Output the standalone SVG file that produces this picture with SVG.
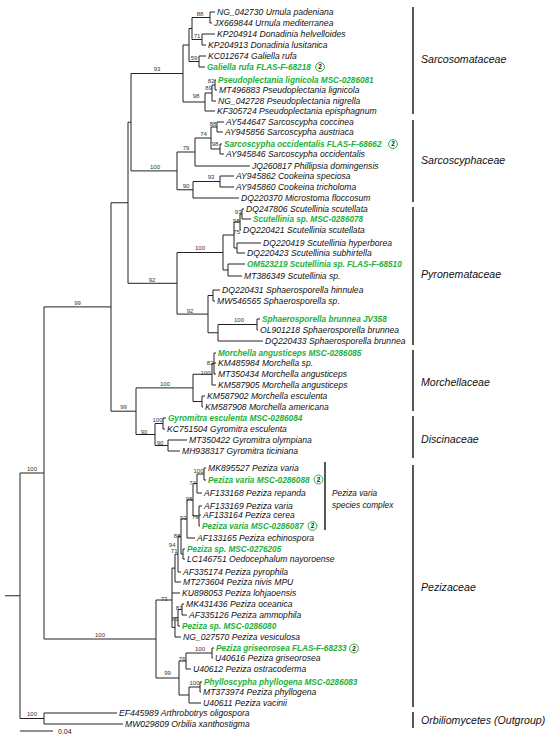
<svg xmlns="http://www.w3.org/2000/svg" width="550" height="741" viewBox="0 0 550 741">
<style>
text{font-family:"Liberation Sans",Arial,sans-serif}
.t{font-size:8.6px;font-style:italic;fill:#111}
.g{font-size:8.2px;font-style:italic;font-weight:bold;fill:#22b03c}
.b{font-size:6px;fill:#333}
.be{font-size:6px;fill:#333;text-anchor:end}
.bm{font-size:6px;fill:#333;text-anchor:middle}
.f{font-size:10.6px;font-style:italic;fill:#111}
.s{font-size:8.3px;font-style:italic;fill:#111}
.br{stroke:#222;stroke-width:1;fill:none}
.bar{stroke:#111;stroke-width:1.4}
.c{fill:#fff;stroke:#22b03c;stroke-width:1}
.cn{font-size:6.5px;font-weight:bold;fill:#111;text-anchor:middle}
</style>
<rect width="550" height="741" fill="#fff"/>
<g id="connectors" class="br">
<path d="M210,12V23M210,12H215M210,23H212"/>
<path d="M202,34V45M202,34H215M202,45H206"/>
<path d="M192,17.5V39.5M192,17.5H210M192,39.5H202"/>
<path d="M199,56V67M199,56H206M199,67H205"/>
<path d="M189,28.5V61.5M189,28.5H192M189,61.5H199"/>
<path d="M215,80V90M215,80H216M215,90H217"/>
<path d="M212,85V101M212,85H215M212,101H216"/>
<path d="M205,93V111M205,93H212M205,111H215"/>
<path d="M183,45V102M183,45H189M183,102H205"/>
<path d="M217,122V132M217,122H224M217,132H223"/>
<path d="M220,144V154M220,144H222M220,154H224"/>
<path d="M211,127V149M211,127H217M211,149H220"/>
<path d="M195,138V166M195,138H211M195,166H250"/>
<path d="M220,176V187M220,176H234M220,187H234"/>
<path d="M193,181.5V198M193,181.5H220M193,198H239"/>
<path d="M177,152V189.75M177,152H195M177,189.75H193"/>
<path d="M242,209V219M242,209H244M242,219H251"/>
<path d="M240,214V230M240,214H242M240,230H241"/>
<path d="M237,243V253M237,243H261M237,253H245"/>
<path d="M234,222V248M234,222H240M234,248H237"/>
<path d="M228,264V276M228,264H245M228,276H242"/>
<path d="M223,235V270M223,235H234M223,270H228"/>
<path d="M213,290V301M213,290H220M213,301H215"/>
<path d="M257,319V330M257,319H260M257,330H258"/>
<path d="M218,324.5V341M218,324.5H257M218,341H263"/>
<path d="M208,295.5V332.75M208,295.5H213M208,332.75H218"/>
<path d="M177,252.5V314.1M177,252.5H223M177,314.1H208"/>
<path d="M131,73.5V170.9M131,73.5H183M131,170.9H177"/>
<path d="M128,122.2V283.3M128,122.2H131M128,283.3H177"/>
<path d="M214,353V374M214,353H216M214,363H216M214,374H216"/>
<path d="M212,363.5V385M212,363.5H214M212,385H216"/>
<path d="M202,396V407M202,396H205M202,407H203"/>
<path d="M193,374.25V401.5M193,374.25H212M193,401.5H202"/>
<path d="M163,418V429M163,418H166M163,429H165"/>
<path d="M168,440V451M168,440H187M168,451H180"/>
<path d="M155,423.5V445.5M155,423.5H163M155,445.5H168"/>
<path d="M136,387.9V434.5M136,387.9H193M136,434.5H155"/>
<path d="M111,202.75V411.2M111,202.75H128M111,411.2H136"/>
<path d="M204,468V480M204,468H206M204,480H206"/>
<path d="M197,474V493M197,474H204M197,493H202"/>
<path d="M199,506V526M199,506H202M199,515H201M199,526H200"/>
<path d="M193,483.5V516M193,483.5H197M193,516H199"/>
<path d="M187,499.75V538M187,499.75H193M187,538H195"/>
<path d="M183,549V559M183,549H185M183,559H185"/>
<path d="M181,518.9V554M181,518.9H187M181,554H183"/>
<path d="M178,536.4V572M178,536.4H181M178,572H181"/>
<path d="M175,554.2V582M175,554.2H178M175,582H181"/>
<path d="M182,604V615M182,604H184M182,615H187"/>
<path d="M178,609.5V626M178,609.5H182M178,626H180"/>
<path d="M175,617.75V637M175,617.75H178M175,637H181"/>
<path d="M172,568.1V627.4M172,568.1H175M172,593H180M172,627.4H175"/>
<path d="M212,648V658M212,648H214M212,658H213"/>
<path d="M186,653V669M186,653H212M186,669H191"/>
<path d="M200,682V692M200,682H202M200,692H201"/>
<path d="M189,687V703M189,687H200M189,703H201"/>
<path d="M179,661V695M179,661H186M179,695H189"/>
<path d="M156,600V678M156,600H172M156,678H179"/>
<path d="M44,306.9V639M44,306.9H111M44,639H156"/>
<path d="M44,713V724M44,713H117M44,724H123"/>
<path d="M20,473V718.5M20,473H44M20,718.5H44M5,595.75H20"/>
</g>
<g id="support">
<text class="bm" x="200" y="15.5">88</text>
<text class="bm" x="197" y="37.5">71</text>
<text class="bm" x="194" y="59.5">59</text>
<text class="be" x="214.5" y="82.5">82</text>
<text class="be" x="212" y="90">89</text>
<text class="bm" x="196" y="97.5">98</text>
<text class="bm" x="157" y="71">93</text>
<text class="bm" x="213" y="126">88</text>
<text class="bm" x="215" y="146">98</text>
<text class="bm" x="203.5" y="135.5">74</text>
<text class="bm" x="186" y="149.5">79</text>
<text class="bm" x="211" y="178.5">93</text>
<text class="bm" x="186" y="187.5">90</text>
<text class="bm" x="155" y="168.5">100</text>
<text class="be" x="241.5" y="213.5">93</text>
<text class="be" x="239.5" y="222.5">98</text>
<text class="be" x="240" y="233.5">75</text>
<text class="bm" x="200" y="250">100</text>
<text class="bm" x="239" y="321.5">100</text>
<text class="bm" x="190" y="312.5">92</text>
<text class="bm" x="152" y="281.5">92</text>
<text class="be" x="213.5" y="365">82</text>
<text class="be" x="210.5" y="374.5">100</text>
<text class="bm" x="165" y="385.5">100</text>
<text class="be" x="162.5" y="421.5">100</text>
<text class="bm" x="160" y="444.5">90</text>
<text class="bm" x="144" y="433.5">90</text>
<text class="bm" x="123.5" y="408.5">99</text>
<text class="bm" x="77.5" y="304.5">99</text>
<text class="be" x="203.5" y="473">100</text>
<text class="be" x="196" y="484.5">74</text>
<text class="be" x="198.5" y="518.5">79</text>
<text class="be" x="192.5" y="500.5">95</text>
<text class="be" x="186.5" y="519.5">93</text>
<text class="be" x="180.5" y="537.5">88</text>
<text class="be" x="175.5" y="546.5">94</text>
<text class="be" x="177.5" y="552.5">71</text>
<text class="bm" x="164" y="601">73</text>
<text class="be" x="182.5" y="609.5">81</text>
<text class="be" x="178.5" y="620.5">81</text>
<text class="bm" x="200" y="651">100</text>
<text class="be" x="185.5" y="660.5">76</text>
<text class="be" x="199.5" y="685">100</text>
<text class="bm" x="167.5" y="675">99</text>
<text class="bm" x="100" y="637">100</text>
<text class="bm" x="32" y="471">100</text>
<text class="bm" x="32" y="716">100</text>
</g>
<g id="leaf-NG_042730"><text class="t" x="217" y="15">NG_042730 Urnula padeniana</text></g>
<g id="leaf-JX669844"><text class="t" x="214" y="26">JX669844 Urnula mediterranea</text></g>
<g id="leaf-KP204914"><text class="t" x="217" y="37">KP204914 Donadinia helvelloides</text></g>
<g id="leaf-KP204913"><text class="t" x="208" y="48">KP204913 Donadinia lusitanica</text></g>
<g id="leaf-KC012674"><text class="t" x="208" y="59">KC012674 Galiella rufa</text></g>
<g id="leaf-FLAS-F-68218"><text class="g" x="207" y="70">Galiella rufa FLAS-F-68218</text><circle class="c" cx="320" cy="67" r="4.4"/><text class="cn" x="320" y="69.3">2</text></g>
<g id="leaf-MSC-0286081"><text class="g" x="218" y="83">Pseudoplectania lignicola MSC-0286081</text></g>
<g id="leaf-MT496883"><text class="t" x="219" y="93">MT496883 Pseudoplectania lignicola</text></g>
<g id="leaf-NG_042728"><text class="t" x="218" y="104">NG_042728 Pseudoplectania nigrella</text></g>
<g id="leaf-KF305724"><text class="t" x="217" y="114">KF305724 Pseudoplectania episphagnum</text></g>
<g id="leaf-AY544647"><text class="t" x="226" y="125">AY544647 Sarcoscypha coccinea</text></g>
<g id="leaf-AY945856"><text class="t" x="225" y="135">AY945856 Sarcoscypha austriaca</text></g>
<g id="leaf-FLAS-F-68662"><text class="g" x="224" y="147">Sarcoscypha occidentalis FLAS-F-68662</text><circle class="c" cx="393" cy="144" r="4.4"/><text class="cn" x="393" y="146.3">2</text></g>
<g id="leaf-AY945846"><text class="t" x="226" y="157">AY945846 Sarcoscypha occidentalis</text></g>
<g id="leaf-JQ260817"><text class="t" x="252" y="169">JQ260817 Phillipsia domingensis</text></g>
<g id="leaf-AY945862"><text class="t" x="236" y="179">AY945862 Cookeina speciosa</text></g>
<g id="leaf-AY945860"><text class="t" x="236" y="190">AY945860 Cookeina tricholoma</text></g>
<g id="leaf-DQ220370"><text class="t" x="241" y="201">DQ220370 Microstoma floccosum</text></g>
<g id="leaf-DQ247806"><text class="t" x="246" y="212">DQ247806 Scutellinia scutellata</text></g>
<g id="leaf-MSC-0286078"><text class="g" x="253" y="222">Scutellinia sp. MSC-0286078</text></g>
<g id="leaf-DQ220421"><text class="t" x="243" y="233">DQ220421 Scutellinia scutellata</text></g>
<g id="leaf-DQ220419"><text class="t" x="263" y="246">DQ220419 Scutellinia hyperborea</text></g>
<g id="leaf-DQ220423"><text class="t" x="247" y="256">DQ220423 Scutellinia subhirtella</text></g>
<g id="leaf-OM523219"><text class="g" x="247" y="267">OM523219 Scutellinia sp. FLAS-F-68510</text></g>
<g id="leaf-MT386349"><text class="t" x="244" y="279">MT386349 Scutellinia sp.</text></g>
<g id="leaf-DQ220431"><text class="t" x="222" y="293">DQ220431 Sphaerosporella hinnulea</text></g>
<g id="leaf-MW546565"><text class="t" x="217" y="304">MW546565 Sphaerosporella sp.</text></g>
<g id="leaf-JV358"><text class="g" x="262" y="322">Sphaerosporella brunnea JV358</text></g>
<g id="leaf-OL901218"><text class="t" x="260" y="333">OL901218 Sphaerosporella brunnea</text></g>
<g id="leaf-DQ220433"><text class="t" x="265" y="344">DQ220433 Sphaerosporella brunnea</text></g>
<g id="leaf-MSC-0286085"><text class="g" x="218" y="356">Morchella angusticeps MSC-0286085</text></g>
<g id="leaf-KM485984"><text class="t" x="218" y="366">KM485984 Morchella sp.</text></g>
<g id="leaf-MT350434"><text class="t" x="218" y="377">MT350434 Morchella angusticeps</text></g>
<g id="leaf-KM587905"><text class="t" x="218" y="388">KM587905 Morchella angusticeps</text></g>
<g id="leaf-KM587902"><text class="t" x="207" y="399">KM587902 Morchella esculenta</text></g>
<g id="leaf-KM587908"><text class="t" x="205" y="410">KM587908 Morchella americana</text></g>
<g id="leaf-MSC-0286084"><text class="g" x="168" y="421">Gyromitra esculenta MSC-0286084</text></g>
<g id="leaf-KC751504"><text class="t" x="167" y="432">KC751504 Gyromitra esculenta</text></g>
<g id="leaf-MT350422"><text class="t" x="189" y="443">MT350422 Gyromitra olympiana</text></g>
<g id="leaf-MH938317"><text class="t" x="182" y="454">MH938317 Gyromitra ticiniana</text></g>
<g id="leaf-MK895527"><text class="t" x="208" y="471">MK895527 Peziza varia</text></g>
<g id="leaf-MSC-0286088"><text class="g" x="208" y="483">Peziza varia MSC-0286088</text><circle class="c" cx="318.5" cy="479.5" r="4.4"/><text class="cn" x="318.5" y="481.8">2</text></g>
<g id="leaf-AF133168"><text class="t" x="204" y="496">AF133168 Peziza repanda</text></g>
<g id="leaf-AF133169"><text class="t" x="204" y="509">AF133169 Peziza varia</text></g>
<g id="leaf-AF133164"><text class="t" x="203" y="518">AF133164 Peziza cerea</text></g>
<g id="leaf-MSC-0286087"><text class="g" x="202" y="529">Peziza varia MSC-0286087</text><circle class="c" cx="312.5" cy="526" r="4.4"/><text class="cn" x="312.5" y="528.3">2</text></g>
<g id="leaf-AF133165"><text class="t" x="197" y="541">AF133165 Peziza echinospora</text></g>
<g id="leaf-MSC-0276205"><text class="g" x="187" y="552">Peziza sp. MSC-0276205</text></g>
<g id="leaf-LC146751"><text class="t" x="187" y="562">LC146751 Oedocephalum nayoroense</text></g>
<g id="leaf-AF335174"><text class="t" x="183" y="575">AF335174 Peziza pyrophila</text></g>
<g id="leaf-MT273604"><text class="t" x="183" y="585">MT273604 Peziza nivis MPU</text></g>
<g id="leaf-KU898053"><text class="t" x="182" y="596">KU898053 Peziza lohjaoensis</text></g>
<g id="leaf-MK431436"><text class="t" x="186" y="607">MK431436 Peziza oceanica</text></g>
<g id="leaf-AF335126"><text class="t" x="189" y="618">AF335126 Peziza ammophila</text></g>
<g id="leaf-MSC-0286080"><text class="g" x="182" y="629">Peziza sp. MSC-0286080</text></g>
<g id="leaf-NG_027570"><text class="t" x="183" y="640">NG_027570 Peziza vesiculosa</text></g>
<g id="leaf-FLAS-F-68233"><text class="g" x="216" y="651">Peziza griseorosea FLAS-F-68233</text><circle class="c" cx="354" cy="648.5" r="4.4"/><text class="cn" x="354" y="650.8">2</text></g>
<g id="leaf-U40616"><text class="t" x="215" y="661">U40616 Peziza griseorosea</text></g>
<g id="leaf-U40612"><text class="t" x="193" y="672">U40612 Peziza ostracoderma</text></g>
<g id="leaf-MSC-0286083"><text class="g" x="204" y="685">Phylloscypha phyllogena MSC-0286083</text></g>
<g id="leaf-MT373974"><text class="t" x="203" y="695">MT373974 Peziza phyllogena</text></g>
<g id="leaf-U40611"><text class="t" x="203" y="706">U40611 Peziza vacinii</text></g>
<g id="leaf-EF445989"><text class="t" x="119" y="716">EF445989 Arthrobotrys oligospora</text></g>
<g id="leaf-MW029809"><text class="t" x="125" y="727">MW029809 Orbilia xanthostigma</text></g>
<g id="complex"><line class="bar" x1="325" y1="462" x2="325" y2="530"/><text class="s" x="332" y="496">Peziza varia</text><text class="s" x="332" y="507.5">species complex</text></g>
<g id="fam-sarcosomataceae"><line class="bar" x1="413" y1="7" x2="413" y2="114"/><text class="f" x="421" y="63">Sarcosomataceae</text></g>
<g id="fam-sarcoscyphaceae"><line class="bar" x1="413" y1="120" x2="413" y2="202"/><text class="f" x="421" y="164">Sarcoscyphaceae</text></g>
<g id="fam-pyronemataceae"><line class="bar" x1="413" y1="207" x2="413" y2="345"/><text class="f" x="421" y="278">Pyronemataceae</text></g>
<g id="fam-morchellaceae"><line class="bar" x1="413" y1="350" x2="413" y2="411"/><text class="f" x="421" y="386">Morchellaceae</text></g>
<g id="fam-discinaceae"><line class="bar" x1="413" y1="416" x2="413" y2="458"/><text class="f" x="421" y="443">Discinaceae</text></g>
<g id="fam-pezizaceae"><line class="bar" x1="413" y1="465" x2="413" y2="707"/><text class="f" x="421" y="591">Pezizaceae</text></g>
<g id="fam-outgroup"><line class="bar" x1="413" y1="712" x2="413" y2="728"/><text class="f" x="421" y="724">Orbiliomycetes (Outgroup)</text></g>
<g id="scale"><line class="br" x1="20" y1="731" x2="53" y2="731"/><text style="font-size:7px;fill:#222" x="58" y="734">0.04</text></g>
</svg>
